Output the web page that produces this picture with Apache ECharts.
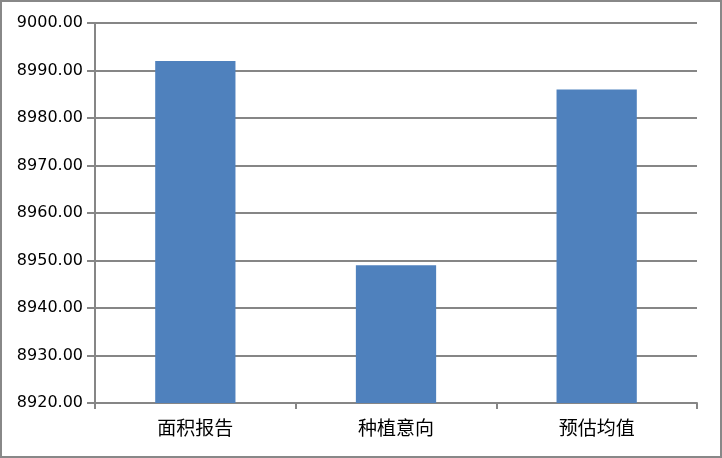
<!DOCTYPE html>
<html>
<head>
<meta charset="utf-8">
<script src="https://cdn.jsdelivr.net/npm/echarts@6/dist/echarts.min.js"></script>
<style>
  html, body { margin: 0; padding: 0; background: #fff; }
  #main { width: 722px; height: 458px; box-sizing: border-box; border: 2px solid #888; }
</style>
</head>
<body>
<div id="main"></div>
<script>
const categories = ['面积报告', '种植意向', '预估均值'];
const values = [8992, 8949, 8986];

const chart = echarts.init(document.getElementById('main'));

const option = {
  backgroundColor: '#ffffff',
  animation: false,
  grid: { left: 93, right: 23, top: 21, bottom: 53 },
  xAxis: {
    type: 'category',
    data: categories,
    axisLine: { lineStyle: { color: '#868686', width: 2 } },
    axisTick: { show: true, length: 6, lineStyle: { color: '#868686', width: 2 } },
    axisLabel: {
      color: '#000',
      fontSize: 19,
      fontFamily: 'Noto Sans CJK SC',
      margin: 15
    }
  },
  yAxis: {
    type: 'value',
    min: 8920,
    max: 9000,
    interval: 10,
    axisLine: { show: true, lineStyle: { color: '#868686', width: 2 } },
    axisTick: { show: true, inside: false, length: 8, lineStyle: { color: '#868686', width: 2 } },
    axisLabel: {
      color: '#000',
      fontSize: 16,
      fontFamily: 'DejaVu Sans',
      margin: 12,
      formatter: function (v) { return v.toFixed(2); }
    },
    splitLine: { lineStyle: { color: '#868686', width: 2 } }
  },
  series: [{
    type: 'bar',
    data: values,
    barWidth: '40%',
    itemStyle: { color: '#4F81BD' }
  }]
};

chart.setOption(option);
</script>
</body>
</html>
